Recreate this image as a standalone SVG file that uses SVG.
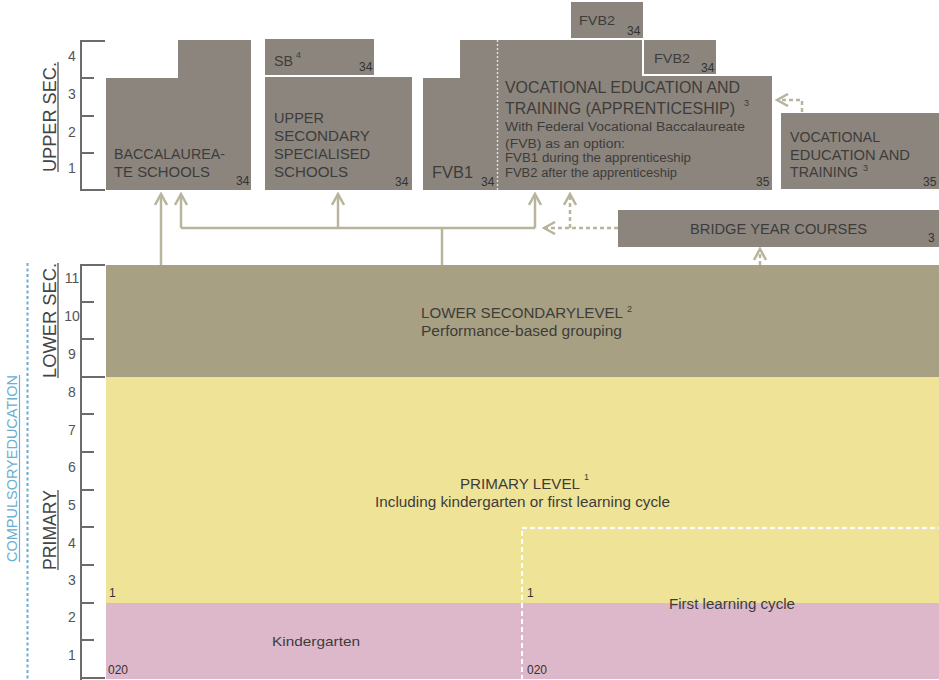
<svg xmlns="http://www.w3.org/2000/svg" width="939" height="680" viewBox="0 0 939 680">
<style>
text{font-family:"Liberation Sans",Arial,sans-serif;fill:#3e3c3a}
.ax{stroke:#6c6c6c;stroke-width:2;fill:none}
.num{font-size:14px;fill:#555;text-anchor:middle}
.side{font-size:19px;fill:#444}
.ul{stroke:#444;stroke-width:1.2}
.box{fill:#8b857e}
.lbl{font-size:14px}
.big{font-size:16px}
.sm{font-size:12px}
.ref{font-size:12px;fill:#333}
.sup{font-size:9px}
.con{stroke:#b9b49c;stroke-width:2.5;fill:none}
.dash{stroke-dasharray:4 3}
</style>
<defs>
<marker id="ah" viewBox="0 0 14 14" refX="12" refY="7" markerWidth="14" markerHeight="14" markerUnits="userSpaceOnUse" orient="auto">
<path d="M1,1 L12,7 L1,13" fill="none" stroke="#b9b49c" stroke-width="2.5"/>
</marker>
</defs>

<g id="axes">
<path class="ax" d="M81,40 V191 M81,41 H105 M81,78 H94 M81,116 H94 M81,153 H94 M81,190 H105"/>
<path class="ax" d="M81,264 V680 M81,265 H105 M81,302 H94 M81,339 H94 M81,377 H105 M81,414 H94 M81,452 H94 M81,490 H94 M81,527 H94 M81,565 H94 M81,603 H94 M81,640 H94 M81,678 H105"/>
<text class="num" x="72" y="61">4</text>
<text class="num" x="72" y="99">3</text>
<text class="num" x="72" y="137">2</text>
<text class="num" x="72" y="173">1</text>
<text class="num" x="72" y="283">11</text>
<text class="num" x="72" y="321">10</text>
<text class="num" x="72" y="359">9</text>
<text class="num" x="72" y="397">8</text>
<text class="num" x="72" y="435">7</text>
<text class="num" x="72" y="472">6</text>
<text class="num" x="72" y="510">5</text>
<text class="num" x="72" y="548">4</text>
<text class="num" x="72" y="585">3</text>
<text class="num" x="72" y="622">2</text>
<text class="num" x="72" y="660">1</text>
<text class="side" transform="translate(56,172) rotate(-90)" textLength="110" lengthAdjust="spacingAndGlyphs">UPPER SEC.</text>
<line class="ul" x1="58" y1="62" x2="58" y2="172"/>
<text class="side" transform="translate(56,378) rotate(-90)" textLength="115" lengthAdjust="spacingAndGlyphs">LOWER SEC.</text>
<line class="ul" x1="58" y1="263" x2="58" y2="378"/>
<text class="side" transform="translate(56,570) rotate(-90)" textLength="80" lengthAdjust="spacingAndGlyphs">PRIMARY</text>
<line class="ul" x1="58" y1="490" x2="58" y2="570"/>
<text transform="translate(17,562) rotate(-90)" style="font-size:14px;fill:#6aaed0" textLength="187" lengthAdjust="spacingAndGlyphs">COMPULSORYEDUCATION</text>
<line x1="19.5" y1="375" x2="19.5" y2="562" stroke="#6aaed0" stroke-width="1.2"/>
<line x1="27.5" y1="263" x2="27.5" y2="680" stroke="#6aaed0" stroke-width="2" stroke-dasharray="3 2.5"/>
</g>

<g id="primary">
<rect x="106" y="377" width="833" height="226" fill="#eee397"/>
<text x="460" y="489" style="font-size:14px" textLength="120" lengthAdjust="spacingAndGlyphs">PRIMARY LEVEL</text>
<text x="584" y="480" class="sup">1</text>
<text x="375" y="507" style="font-size:14px" textLength="295" lengthAdjust="spacingAndGlyphs">Including kindergarten or first learning cycle</text>
<text x="109" y="597" class="ref">1</text>
<text x="527" y="597" class="ref">1</text>
</g>

<g id="kindergarten">
<rect x="106" y="603" width="833" height="76" fill="#ddb8ca"/>
<text x="272" y="646" style="font-size:13.5px" textLength="88" lengthAdjust="spacingAndGlyphs">Kindergarten</text>
<text x="108" y="674" class="ref">020</text>
<text x="527" y="674" class="ref">020</text>
</g>

<g id="first-learning-cycle">
<path d="M522,680 V528 H939" fill="none" stroke="#fff" stroke-width="2" stroke-dasharray="5 3"/>
<text x="669" y="609" style="font-size:14px" textLength="126" lengthAdjust="spacingAndGlyphs">First learning cycle</text>
</g>

<g id="lower-secondary">
<rect x="106" y="265" width="833" height="112" fill="#a7a083"/>
<text x="421" y="318" style="font-size:14px" textLength="202" lengthAdjust="spacingAndGlyphs">LOWER SECONDARYLEVEL</text>
<text x="627" y="312" class="sup">2</text>
<text x="421" y="336" style="font-size:14px" textLength="201" lengthAdjust="spacingAndGlyphs">Performance-based grouping</text>
</g>

<g id="baccalaureate">
<path class="box" d="M106,78 H178 V40 H251 V190 H106 Z"/>
<text class="lbl" x="114" y="159" textLength="111" lengthAdjust="spacingAndGlyphs">BACCALAUREA-</text>
<text class="lbl" x="114" y="177" textLength="96" lengthAdjust="spacingAndGlyphs">TE SCHOOLS</text>
<text class="ref" x="236" y="185">34</text>
</g>

<g id="sb">
<rect class="box" x="265" y="39" width="109" height="36"/>
<text class="lbl" x="274" y="66" textLength="19" lengthAdjust="spacingAndGlyphs">SB</text>
<text class="sup" x="296" y="58">4</text>
<text class="ref" x="359" y="71">34</text>
</g>

<g id="upper-secondary-specialised">
<rect class="box" x="265" y="77" width="147" height="113"/>
<text class="lbl" x="274" y="123" textLength="50" lengthAdjust="spacingAndGlyphs">UPPER</text>
<text class="lbl" x="274" y="141" textLength="96" lengthAdjust="spacingAndGlyphs">SECONDARY</text>
<text class="lbl" x="274" y="159" textLength="96" lengthAdjust="spacingAndGlyphs">SPECIALISED</text>
<text class="lbl" x="274" y="177" textLength="74" lengthAdjust="spacingAndGlyphs">SCHOOLS</text>
<text class="ref" x="395" y="186">34</text>
</g>

<g id="fvb1">
<path class="box" d="M423,78 H460 V40 H497 V190 H423 Z"/>
<text class="big" x="432" y="178" textLength="41" lengthAdjust="spacingAndGlyphs">FVB1</text>
<text class="ref" x="481" y="186">34</text>
</g>

<g id="vet-apprenticeship">
<path class="box" d="M497,40 H642 V76 H772 V190 H497 Z"/>
<line x1="497.5" y1="40" x2="497.5" y2="190" stroke="#dcdcdc" stroke-width="1.5" stroke-dasharray="2 2"/>
<text class="big" x="505" y="93" textLength="235" lengthAdjust="spacingAndGlyphs">VOCATIONAL EDUCATION AND</text>
<text class="big" x="505" y="114" textLength="230" lengthAdjust="spacingAndGlyphs">TRAINING (APPRENTICESHIP)</text>
<text class="sup" x="744" y="106">3</text>
<text class="sm" x="505" y="131" textLength="240" lengthAdjust="spacingAndGlyphs">With Federal Vocational Baccalaureate</text>
<text class="sm" x="505" y="148" textLength="120" lengthAdjust="spacingAndGlyphs">(FVB) as an option:</text>
<text class="sm" x="505" y="162" textLength="186" lengthAdjust="spacingAndGlyphs">FVB1 during the apprenticeship</text>
<text class="sm" x="505" y="177" textLength="172" lengthAdjust="spacingAndGlyphs">FVB2 after the apprenticeship</text>
<text class="ref" x="756" y="186">35</text>
</g>

<g id="fvb2-top">
<rect class="box" x="571" y="2" width="72" height="36"/>
<text x="579" y="25" style="font-size:13px" textLength="36" lengthAdjust="spacingAndGlyphs">FVB2</text>
<text class="ref" x="627" y="35">34</text>
</g>

<g id="fvb2-right">
<rect class="box" x="644" y="40" width="72" height="34"/>
<text x="654" y="63" style="font-size:13px" textLength="36" lengthAdjust="spacingAndGlyphs">FVB2</text>
<text class="ref" x="701" y="72">34</text>
</g>

<g id="vet">
<rect class="box" x="781" y="113" width="158" height="76"/>
<text class="lbl" x="790" y="142" textLength="90" lengthAdjust="spacingAndGlyphs">VOCATIONAL</text>
<text class="lbl" x="790" y="160" textLength="120" lengthAdjust="spacingAndGlyphs">EDUCATION AND</text>
<text class="lbl" x="790" y="177" textLength="68" lengthAdjust="spacingAndGlyphs">TRAINING</text>
<text class="sup" x="863" y="171">3</text>
<text class="ref" x="923" y="186">35</text>
</g>

<g id="bridge-year">
<rect class="box" x="618" y="210" width="321" height="37"/>
<text class="lbl" x="690" y="234" textLength="177" lengthAdjust="spacingAndGlyphs">BRIDGE YEAR COURSES</text>
<text class="ref" x="928" y="242">3</text>
</g>

<g id="connectors">
<path class="con" d="M161,265 V194" marker-end="url(#ah)"/>
<path class="con" d="M442,265 V228"/>
<path class="con" d="M181,228 H535"/>
<path class="con" d="M181,228 V194" marker-end="url(#ah)"/>
<path class="con" d="M338,228 V194" marker-end="url(#ah)"/>
<path class="con" d="M535,228 V194" marker-end="url(#ah)"/>
<path class="con dash" d="M618,228 H544" marker-end="url(#ah)"/>
<path class="con dash" d="M570,228 V194" marker-end="url(#ah)"/>
<path class="con dash" d="M760,265 V249" marker-end="url(#ah)"/>
<path class="con dash" d="M802,112 V100 H777" marker-end="url(#ah)"/>
</g>
</svg>
